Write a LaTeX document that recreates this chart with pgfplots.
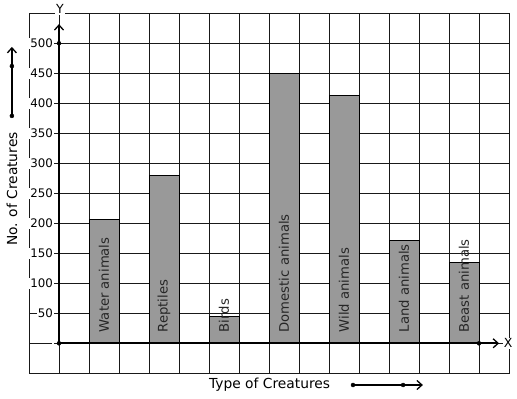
\documentclass[border=0pt]{standalone}
\usepackage{pgfplots}
\pgfplotsset{compat=1.18}
\usepackage{fontspec}
\setmainfont{DejaVu Sans}
\usetikzlibrary{arrows.meta}
\definecolor{bargray}{RGB}{153,153,153}
\begin{document}
\begin{tikzpicture}
\useasboundingbox (-29bp,-25.7bp) rectangle (488bp,373.3bp);
\begin{axis}[
 at={(0,0)}, anchor=south west,
 scale only axis, width=480bp, height=360bp,
 xmin=-1, xmax=15, ymin=-50, ymax=550,
 xtick={0,...,14}, xticklabels={},
 ytick={0,50,...,500}, yticklabels={,50,100,150,200,250,300,350,400,450,500},
 /pgf/number format/assume math mode=true,
 major tick length=0pt,
 grid=major,
 grid style={black!90, line width=0.8bp},
 axis line style={black!90, line width=0.8bp},
 yticklabel style={anchor=east, xshift=25bp, fill=white, inner sep=1bp, font=\fontsize{11.8bp}{13bp}\selectfont},
 clip=false,
]
\addplot[ybar, bar width=30bp, fill=bargray, draw=black, line width=1bp]
 coordinates {(1.5,207)(3.5,279)(5.5,45)(7.5,450)(9.5,413)(11.5,172)(13.5,135)};
% axes
\addplot[line width=1.6bp, -{Straight Barb[length=5bp,width=9bp,line width=1.3bp]}] coordinates {(0,0)(0,532)};
\addplot[line width=1.6bp, -{Straight Barb[length=5bp,width=9bp,line width=1.3bp]}] coordinates {(0,0)(14.67,0)};
\addplot[only marks, mark=*, mark size=2bp, black] coordinates {(0,0)(0,500)(14,0)};
% decorative arrows
\addplot[line width=1.6bp, -{Straight Barb[length=5bp,width=9bp,line width=1.3bp]}] coordinates {(-1.57,379)(-1.57,494)};
\addplot[only marks, mark=*, mark size=2bp, black] coordinates {(-1.57,379)(-1.57,462)};
\addplot[line width=1.6bp, -{Straight Barb[length=5bp,width=9bp,line width=1.3bp]}] coordinates {(9.8,-69.5)(12.13,-69.5)};
\addplot[only marks, mark=*, mark size=2bp, black] coordinates {(9.8,-69.5)(11.47,-69.5)};
% labels
\begin{scope}[every node/.style={font=\fontsize{13.2bp}{15bp}\selectfont, text=black!85}]
\node[rotate=90, anchor=west, inner sep=0pt] at (axis cs:1.5,18) {Water animals};
\node[rotate=90, anchor=west, inner sep=0pt] at (axis cs:3.5,18) {Reptiles};
\node[rotate=90, anchor=west, inner sep=0pt] at (axis cs:5.5,18) {Birds};
\node[rotate=90, anchor=west, inner sep=0pt] at (axis cs:7.5,18) {Domestic animals};
\node[rotate=90, anchor=west, inner sep=0pt] at (axis cs:9.5,18) {Wild animals};
\node[rotate=90, anchor=west, inner sep=0pt] at (axis cs:11.5,18) {Land animals};
\node[rotate=90, anchor=west, inner sep=0pt] at (axis cs:13.5,18) {Beast animals};
\end{scope}
\node[fill=white, inner sep=1.5bp, font=\fontsize{12.5bp}{14bp}\selectfont] at (axis cs:0.03,557) {Y};
\node[fill=white, inner sep=1bp, font=\fontsize{12.5bp}{14bp}\selectfont] at (axis cs:14.97,0) {X};
\node[rotate=90, font=\fontsize{13.8bp}{15bp}\selectfont] at (axis cs:-1.57,257) {No. of Creatures};
\node[font=\fontsize{13.8bp}{15bp}\selectfont] at (axis cs:7.02,-69.5) {Type of Creatures};
\end{axis}
\end{tikzpicture}
\end{document}
